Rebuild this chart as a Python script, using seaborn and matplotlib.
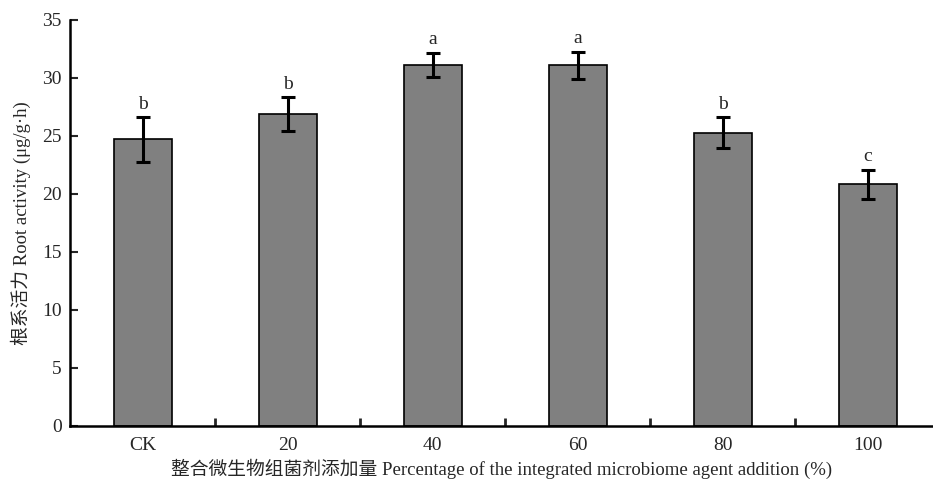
import numpy as np
import pandas as pd
import matplotlib
matplotlib.use("Agg")
import matplotlib.pyplot as plt
import seaborn as sns
from matplotlib.ticker import FixedLocator

categories = ["CK", "20", "40", "60", "80", "100"]
means = [24.7, 26.9, 31.1, 31.1, 25.3, 20.85]
errors = [1.9, 1.45, 1.05, 1.15, 1.3, 1.25]
letters = ["b", "b", "a", "a", "b", "c"]
yticks = [0, 5, 10, 15, 20, 25, 30, 35]

sns.set_style("white")
FAM = ["Liberation Serif", "Noto Sans CJK SC"]
plt.rcParams["font.family"] = FAM
plt.rcParams["axes.unicode_minus"] = False

df = pd.DataFrame({"cat": categories, "val": means})

fig = plt.figure(figsize=(9.33, 4.84), dpi=100)
ax = fig.add_axes([70 / 933, 58 / 484, 863 / 933, 406 / 484])

sns.barplot(data=df, x="cat", y="val", order=categories, color="#808080",
            saturation=1, width=0.4, edgecolor="black", linewidth=1.2,
            errorbar=None, ax=ax)

xs = np.arange(len(categories))
ax.errorbar(xs, means, yerr=errors, fmt="none", ecolor="black",
            elinewidth=2.2, capsize=5, capthick=2.2, zorder=5)
for x, m, e, l in zip(xs, means, errors, letters):
    ax.text(x, m + e + 0.4, l, ha="center", va="bottom", fontsize=14,
            family=FAM)

ax.set_ylim(0, 35)
ax.set_xlim(-0.5, -0.5 + 863 / 145)
ax.set_yticks(yticks)
ax.set_yticklabels([str(t) for t in yticks], fontsize=14)
ax.set_xticks(xs)
ax.set_xticklabels(categories, fontsize=14)
ax.xaxis.set_minor_locator(FixedLocator([0.5, 1.5, 2.5, 3.5, 4.5]))
ax.tick_params(axis="x", which="major", length=0, pad=8)
ax.tick_params(axis="x", which="minor", direction="in", length=6, width=2, bottom=True)
ax.tick_params(axis="y", which="major", direction="in", length=6, width=1.5,
               left=True, pad=6)

for s in ["top", "right"]:
    ax.spines[s].set_visible(False)
for s in ["left", "bottom"]:
    ax.spines[s].set_linewidth(1.8)
    ax.spines[s].set_color("black")

ax.set_xlabel("整合微生物组菌剂添加量 Percentage of the integrated microbiome agent addition (%)",
              fontsize=13.5, labelpad=3)
ax.set_ylabel("根系活力 Root activity (μg/g·h)", fontsize=13.5, labelpad=8)

fig.savefig("out.png", dpi=100)
